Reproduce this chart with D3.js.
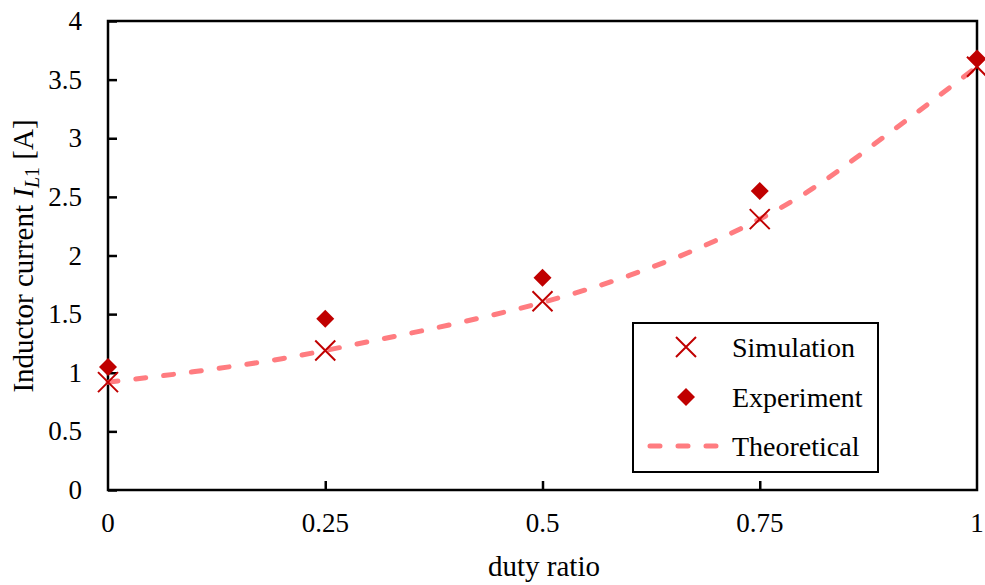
<!DOCTYPE html>
<html>
<head>
<meta charset="utf-8">
<script src="https://cdn.jsdelivr.net/npm/d3@7"></script>
<style>
  html, body { margin: 0; padding: 0; background: #fff; }
</style>
</head>
<body>
<svg id="chart" width="985" height="585" font-family="'Liberation Serif', 'Times New Roman', Times, serif"></svg>
<script>
// Duty ratio sweep
const duty = [0, 0.25, 0.5, 0.75, 1];
const simulation = [0.92, 1.19, 1.61, 2.31, 3.61];
const experiment = [1.05, 1.46, 1.81, 2.55, 3.68];

// Theoretical curve sampled along the duty ratio
const theoryDuty = [0, 0.1, 0.2, 0.3, 0.4, 0.5, 0.6, 0.7, 0.8, 0.9, 1];
const theoryCurrent = [0.92, 1.01, 1.12, 1.265, 1.42, 1.60, 1.83, 2.13, 2.52, 3.05, 3.61];

const xTicks = [0, 0.25, 0.5, 0.75, 1];
const xTickLabels = ["0", "0.25", "0.5", "0.75", "1"];
const yTicks = [0, 0.5, 1, 1.5, 2, 2.5, 3, 3.5, 4];
const yTickLabels = ["0", "0.5", "1", "1.5", "2", "2.5", "3", "3.5", "4"];

const RED = "#C00000";
const PINK = "#FF7C80";
const FONT = "'Liberation Serif', 'Times New Roman', Times, serif";

const svg = d3.select("#chart");
const m = { left: 108, right: 977, top: 21, bottom: 490 };

const x = d3.scaleLinear().domain([0, 1]).range([m.left, m.right]);
const y = d3.scaleLinear().domain([0, 4]).range([m.bottom, m.top]);

// Frame
svg.append("rect")
  .attr("x", m.left).attr("y", m.top)
  .attr("width", m.right - m.left).attr("height", m.bottom - m.top)
  .attr("fill", "none").attr("stroke", "#000").attr("stroke-width", 2.5);

// Y axis: inward ticks, labels on the left
const yAxis = d3.axisRight(y).tickValues(yTicks).tickSize(9).tickFormat("");
const gy = svg.append("g").attr("transform", `translate(${m.left},0)`).call(yAxis);
gy.select(".domain").remove();
gy.selectAll(".tick line").attr("stroke", "#000").attr("stroke-width", 2.5);

svg.append("g").selectAll("text")
  .data(yTicks)
  .join("text")
  .attr("x", 82)
  .attr("y", d => y(d) + 9)
  .attr("text-anchor", "end")
  .attr("font-family", FONT)
  .attr("font-size", 27)
  .attr("fill", "#000")
  .text((d, i) => yTickLabels[i]);

// X axis: inward ticks, labels below
const xAxis = d3.axisTop(x).tickValues(xTicks.slice(1, -1)).tickSize(9).tickFormat("");
const gx = svg.append("g").attr("transform", `translate(0,${m.bottom})`).call(xAxis);
gx.select(".domain").remove();
gx.selectAll(".tick line").attr("stroke", "#000").attr("stroke-width", 2.5);

svg.append("g").selectAll("text")
  .data(xTicks)
  .join("text")
  .attr("x", d => x(d))
  .attr("y", 532)
  .attr("text-anchor", "middle")
  .attr("font-family", FONT)
  .attr("font-size", 27)
  .attr("fill", "#000")
  .text((d, i) => xTickLabels[i]);

// Axis titles
svg.append("text")
  .attr("x", 544)
  .attr("y", 576)
  .attr("text-anchor", "middle")
  .attr("font-family", FONT)
  .attr("font-size", 29)
  .text("duty ratio");

const yt = svg.append("text")
  .attr("transform", "translate(33,256) rotate(-90)")
  .attr("text-anchor", "middle")
  .attr("font-family", FONT)
  .attr("font-size", 29);
yt.append("tspan").text("Inductor current ");
yt.append("tspan").attr("font-style", "italic").text("I");
yt.append("tspan").attr("font-style", "italic").attr("font-size", 20).attr("dy", 6).text("L");
yt.append("tspan").attr("font-size", 20).text("1");
yt.append("tspan").attr("dy", -6).text(" [A]");

// Theoretical curve
const line = d3.line()
  .x((d, i) => x(theoryDuty[i]))
  .y(d => y(d))
  .curve(d3.curveMonotoneX);

svg.append("path")
  .datum(theoryCurrent)
  .attr("d", line)
  .attr("fill", "none")
  .attr("stroke", PINK)
  .attr("stroke-width", 5)
  .attr("stroke-linecap", "round")
  .attr("stroke-dasharray", "10 18");

// Marker helpers
function cross(g, cx, cy, r) {
  g.append("path")
    .attr("d", `M${cx - r},${cy - r}L${cx + r},${cy + r}M${cx - r},${cy + r}L${cx + r},${cy - r}`)
    .attr("stroke", RED).attr("stroke-width", 2).attr("fill", "none");
}
function diamond(g, cx, cy, r) {
  g.append("path")
    .attr("d", `M${cx},${cy - r}L${cx + r},${cy}L${cx},${cy + r}L${cx - r},${cy}Z`)
    .attr("fill", RED);
}

const marks = svg.append("g");
duty.forEach((d, i) => diamond(marks, x(d), y(experiment[i]), 9));
duty.forEach((d, i) => cross(marks, x(d), y(simulation[i]), 10));

// Legend
const lg = svg.append("g");
lg.append("rect")
  .attr("x", 633).attr("y", 323)
  .attr("width", 245).attr("height", 149)
  .attr("fill", "#fff").attr("stroke", "#000").attr("stroke-width", 2);

cross(lg, 686, 347, 10);
diamond(lg, 686, 397, 9);
lg.append("line")
  .attr("x1", 650).attr("x2", 722).attr("y1", 446).attr("y2", 446)
  .attr("stroke", PINK).attr("stroke-width", 5)
  .attr("stroke-linecap", "round").attr("stroke-dasharray", "10 18");

const legendItems = ["Simulation", "Experiment", "Theoretical"];
lg.selectAll("text.leg")
  .data(legendItems)
  .join("text")
  .attr("class", "leg")
  .attr("x", 732)
  .attr("y", (d, i) => 357 + i * 49.5)
  .attr("font-family", FONT)
  .attr("font-size", 28)
  .text(d => d);
</script>
</body>
</html>
